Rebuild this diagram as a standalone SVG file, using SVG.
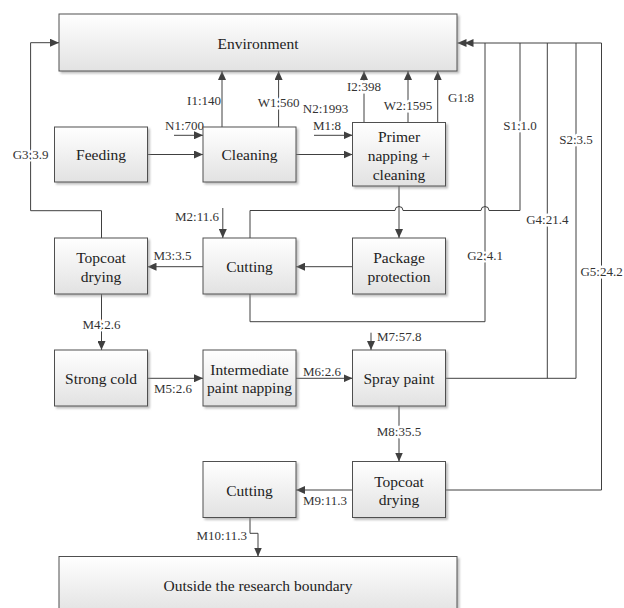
<svg xmlns="http://www.w3.org/2000/svg" width="624" height="608" viewBox="0 0 624 608" font-family="'Liberation Serif', 'DejaVu Serif', 'Times New Roman', serif">
<defs>
  <linearGradient id="bg" x1="0" y1="0" x2="0" y2="1">
    <stop offset="0" stop-color="#ffffff"/>
    <stop offset="1" stop-color="#e2e2e2"/>
  </linearGradient>
  <filter id="sh" x="-10%" y="-10%" width="130%" height="130%">
    <feDropShadow dx="2" dy="2" stdDeviation="1.2" flood-color="#888" flood-opacity="0.55"/>
  </filter>
  <marker id="ar" viewBox="0 0 9 8" refX="9" refY="4" markerWidth="9" markerHeight="8" markerUnits="userSpaceOnUse" orient="auto">
    <path d="M0,0 L9,4 L0,8 z" fill="#404040"/>
  </marker>
</defs>
<style>
  .box { fill: url(#bg); stroke: #505050; stroke-width: 1; filter: url(#sh); }
  text { font-family: 'Liberation Serif', 'DejaVu Serif', 'Times New Roman', serif; }
  .bt { font-size: 15.5px; fill: #222; text-anchor: middle; dominant-baseline: central; }
  .lb { font-size: 13px; fill: #333; dominant-baseline: central; }
  .on { paint-order: stroke; stroke: #fff; stroke-width: 5px; stroke-linejoin: round; text-anchor: middle; }
  .mid { text-anchor: middle; }
  .end { text-anchor: end; }
  .ln { fill: none; stroke: #404040; stroke-width: 1; }
  .a { marker-end: url(#ar); }
</style>
<rect width="624" height="608" fill="#fff"/>

<g id="connectors">
  <path class="ln a" d="M147.5,154.5 H203"/>
  <path class="ln a" d="M174,135.3 H203"/>
  <path class="ln a" d="M296,154.5 H352.5"/>
  <path class="ln a" d="M314,135.3 H352.5"/>
  <path class="ln a" d="M222,127 V71"/>
  <path class="ln a" d="M278.6,127 V71"/>
  <path class="ln a" d="M364,122.5 V71"/>
  <path class="ln a" d="M408,122.5 V71"/>
  <path class="ln a" d="M437.7,122.5 V71"/>
  <path class="ln a" d="M101.5,238 V210.7 H30.6 V42.7 H59"/>
  <path class="ln a" d="M399,186 V238"/>
  <path class="ln" d="M250,238 V210.5 H395 a4,4 0 0 1 8,0 H481 a4,4 0 0 1 8,0 H520 V43"/>
  <path class="ln" d="M250,294 V321.7 H485 V43"/>
  <path class="ln a" d="M352.5,266.7 H296"/>
  <path class="ln a" d="M203,266.7 H147.5"/>
  <path class="ln a" d="M222.8,208 V238"/>
  <path class="ln a" d="M101.5,294 V350"/>
  <path class="ln a" d="M147.5,378.3 H203"/>
  <path class="ln a" d="M296,378.3 H352.5"/>
  <path class="ln a" d="M371,332.7 V350"/>
  <path class="ln" d="M445.5,378.3 H576 V43"/>
  <path class="ln" d="M547.3,378.3 V43"/>
  <path class="ln a" d="M399,406 V461.5"/>
  <path class="ln a" d="M352.5,490 H296"/>
  <path class="ln" d="M445.5,490 H601.5 V43"/>
  <path class="ln a" d="M250,517.5 V533.3 H258 V556.5"/>
  <path class="ln a" d="M601.5,43 H457.5"/>
  <path d="M464.5,43 L473.5,39 L473.5,47 z" fill="#404040"/>
</g>

<g id="labels">
  <text class="lb end" x="204" y="125">N1:700</text>
  <text class="lb end" x="221" y="100">I1:140</text>
  <text class="lb on" x="278.6" y="102.7">W1:560</text>
  <text class="lb mid" x="325.5" y="108">N2:1993</text>
  <text class="lb mid" x="327" y="125">M1:8</text>
  <text class="lb on" x="364" y="86">I2:398</text>
  <text class="lb on" x="408" y="105">W2:1595</text>
  <text class="lb" x="448" y="97">G1:8</text>
  <text class="lb on" x="30.6" y="154">G3:3.9</text>
  <text class="lb on" x="520" y="125">S1:1.0</text>
  <text class="lb on" x="576" y="139">S2:3.5</text>
  <text class="lb on" x="547.3" y="219">G4:21.4</text>
  <text class="lb on" x="485" y="255">G2:4.1</text>
  <text class="lb on" x="601.5" y="271">G5:24.2</text>
  <text class="lb end" x="219" y="216">M2:11.6</text>
  <text class="lb mid" x="172.5" y="255">M3:3.5</text>
  <text class="lb on" x="101.5" y="324">M4:2.6</text>
  <text class="lb mid" x="173" y="388">M5:2.6</text>
  <text class="lb mid" x="322" y="371">M6:2.6</text>
  <text class="lb" x="377" y="336.7">M7:57.8</text>
  <text class="lb on" x="399" y="431.7">M8:35.5</text>
  <text class="lb mid" x="325" y="500.7">M9:11.3</text>
  <text class="lb end" x="247" y="535">M10:11.3</text>
</g>

<g id="environment">
  <rect class="box" x="59" y="14" width="398" height="57"/>
  <text class="bt" x="258" y="43">Environment</text>
</g>
<g id="feeding">
  <rect class="box" x="54.5" y="127" width="93" height="55"/>
  <text class="bt" x="101" y="154.5">Feeding</text>
</g>
<g id="cleaning">
  <rect class="box" x="203" y="127" width="93" height="55"/>
  <text class="bt" x="249.5" y="154.5">Cleaning</text>
</g>
<g id="primer">
  <rect class="box" x="352.5" y="122.5" width="93" height="63.5"/>
  <text class="bt" x="399" y="136">Primer</text>
  <text class="bt" x="399" y="155">napping +</text>
  <text class="bt" x="399" y="174">cleaning</text>
</g>
<g id="package">
  <rect class="box" x="352.5" y="238" width="93" height="56"/>
  <text class="bt" x="399" y="257">Package</text>
  <text class="bt" x="399" y="276">protection</text>
</g>
<g id="cutting1">
  <rect class="box" x="203" y="238" width="93" height="56"/>
  <text class="bt" x="249.5" y="266.7">Cutting</text>
</g>
<g id="topcoat1">
  <rect class="box" x="54.5" y="238" width="93" height="56"/>
  <text class="bt" x="101" y="257">Topcoat</text>
  <text class="bt" x="101" y="276">drying</text>
</g>
<g id="strongcold">
  <rect class="box" x="54.5" y="350" width="93" height="56"/>
  <text class="bt" x="101" y="378">Strong cold</text>
</g>
<g id="intermediate">
  <rect class="box" x="203" y="350" width="93" height="56"/>
  <text class="bt" x="249.5" y="369">Intermediate</text>
  <text class="bt" x="249.5" y="387.5">paint napping</text>
</g>
<g id="spray">
  <rect class="box" x="352.5" y="350" width="93" height="56"/>
  <text class="bt" x="399" y="378">Spray paint</text>
</g>
<g id="topcoat2">
  <rect class="box" x="352.5" y="461.5" width="93" height="56"/>
  <text class="bt" x="399" y="481">Topcoat</text>
  <text class="bt" x="399" y="499.5">drying</text>
</g>
<g id="cutting2">
  <rect class="box" x="203" y="461.5" width="93" height="56"/>
  <text class="bt" x="249.5" y="490">Cutting</text>
</g>
<g id="outside">
  <rect class="box" x="59" y="556.5" width="398" height="57"/>
  <text class="bt" x="258" y="585">Outside the research boundary</text>
</g>
</svg>
